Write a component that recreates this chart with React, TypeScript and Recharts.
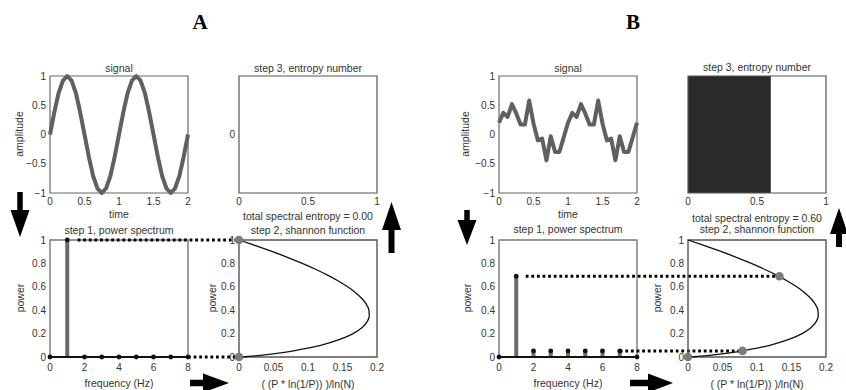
import React from 'react';
import { ComposedChart, Line, Scatter, XAxis, YAxis, ReferenceArea, ReferenceLine } from 'recharts';

// sampled time axis (16 samples per second)
const timeSec = [
  0, 0.0625, 0.125, 0.1875, 0.25, 0.3125, 0.375, 0.4375, 0.5, 0.5625, 0.625, 0.6875, 0.75, 0.8125, 0.875, 0.9375,
  1, 1.0625, 1.125, 1.1875, 1.25, 1.3125, 1.375, 1.4375, 1.5, 1.5625, 1.625, 1.6875, 1.75, 1.8125, 1.875, 1.9375, 2,
];
const signalA = [
  0, 0.38, 0.71, 0.92, 1, 0.92, 0.71, 0.38, 0, -0.38, -0.71, -0.92, -1, -0.92, -0.71, -0.38,
  0, 0.38, 0.71, 0.92, 1, 0.92, 0.71, 0.38, 0, -0.38, -0.71, -0.92, -1, -0.92, -0.71, -0.38, 0,
];
const signalB = [
  0.2, 0.37, 0.3, 0.52, 0.36, 0.17, 0.17, 0.58, 0.19, -0.1, -0.07, -0.44, -0.03, -0.3, -0.3, -0.05,
  0.2, 0.37, 0.3, 0.52, 0.36, 0.17, 0.17, 0.58, 0.19, -0.1, -0.07, -0.44, -0.03, -0.3, -0.3, -0.05, 0.2,
];

const freqHz = [0, 1, 2, 3, 4, 5, 6, 7, 8];
const powerA = [0, 1, 0, 0, 0, 0, 0, 0, 0];
const powerB = [0, 0.69, 0.052, 0.052, 0.052, 0.052, 0.052, 0.052, 0];

// shannon function: power P vs (P*ln(1/P))/ln(N)
const shannonP = [
  0, 0.002, 0.005, 0.01, 0.02, 0.035, 0.05, 0.075, 0.1, 0.15, 0.2, 0.25, 0.3, 0.35, 0.4, 0.45, 0.5, 0.55, 0.6,
  0.65, 0.7, 0.75, 0.8, 0.85, 0.9, 0.95, 1,
];
const shannonE = [
  0, 0.0064, 0.0136, 0.0237, 0.0402, 0.0603, 0.077, 0.0998, 0.1183, 0.1462, 0.1654, 0.1781, 0.1856, 0.1888,
  0.1883, 0.1846, 0.1781, 0.169, 0.1575, 0.1439, 0.1283, 0.1109, 0.0917, 0.071, 0.0487, 0.025, 0,
];

const markerEA = [0, 0];
const markerPA = [1, 0];
const markerEB = [0, 0.079, 0.1325];
const markerPB = [0, 0.052, 0.69];

// dotted links from the spectrum to the shannon curve
const linkPA = [1, 0];
const linkFromA = [1.6, 8];
const linkToA = [0, 0];
const linkPB = [0.69, 0.052];
const linkFromB = [1.55, 7];
const linkToB = [0.1325, 0.079];

const entropyA = 0;
const entropyB = 0.6;

const PW = 138;
const PH = 117;
const YW = 46;
const MT = 10;
const MR = 14;
const XH = 34;
const TOP = 76;
const BOT = 240;
const AX = [50, 239];
const BX = [499, 688];
const FONT = '"Liberation Sans", Arial, Helvetica, sans-serif';
const INK = '#333';

const tickStyle = { fontSize: 10, fill: INK };
const minus = (v: number) => String(v).replace('-', '\u2212');
const size = { width: YW + PW + MR, height: MT + PH + XH, margin: { top: MT, right: MR, bottom: 0, left: 0 } };

function Slot({ x, y, children }: any) {
  return <div style={{ position: 'absolute', left: x - YW, top: y - MT }}>{children}</div>;
}

function yAxis(domain: number[], ticks: number[], show = true, overflow = false) {
  return (
    <YAxis type="number" domain={domain} ticks={ticks} width={YW} axisLine={false} tickLine={false}
      tickSize={2} tickMargin={2} tick={show ? tickStyle : false} tickFormatter={minus} interval={0}
      allowDataOverflow={overflow} />
  );
}

function xAxis(key: string, domain: number[], ticks: number[], margin: number, overflow = false) {
  return (
    <XAxis dataKey={key} type="number" domain={domain} ticks={ticks} height={XH} axisLine={false} tickLine={false}
      tickSize={2} tickMargin={margin} tick={tickStyle} interval={0} allowDataOverflow={overflow} />
  );
}

function SignalChart({ x, values }: { x: number; values: number[] }) {
  const data = timeSec.map((t, i) => ({ t, v: values[i] }));
  return (
    <Slot x={x} y={TOP}>
      <ComposedChart {...size} data={data}>
        {xAxis('t', [0, 2], [0, 0.5, 1, 1.5, 2], 3)}
        {yAxis([-1, 1], [-1, -0.5, 0, 0.5, 1])}
        <ReferenceArea x1={0} x2={2} y1={-1} y2={1} fill="none" stroke="#666" strokeWidth={1.2} />
        <Line dataKey="v" type="linear" stroke="#606060" strokeWidth={4} strokeLinejoin="round" dot={false}
          isAnimationActive={false} />
      </ComposedChart>
    </Slot>
  );
}

function EntropyChart({ x, value, zeroTick }: { x: number; value: number; zeroTick: boolean }) {
  const data = [{ e: 0 }, { e: 1 }];
  return (
    <Slot x={x} y={TOP}>
      <ComposedChart {...size} data={data}>
        {xAxis('e', [0, 1], [0, 0.5, 1], 3, true)}
        {yAxis([-1, 1], [0], zeroTick, true)}
        {value > 0 && <ReferenceArea x1={0} x2={value} y1={-1} y2={1} fill="#2a2a2a" fillOpacity={1} stroke="none" />}
        <ReferenceArea x1={0} x2={1} y1={-1} y2={1} fill="none" stroke="#555" strokeWidth={1.2} />
      </ComposedChart>
    </Slot>
  );
}

function StemChart({ xs, power, linkP, linkFrom, linkTo }: any) {
  const data = freqHz.map((f, i) => ({ f, p: power[i] }));
  // shannon-axis value -> frequency units of this panel, so the dotted line reaches the right panel
  const toFreq = (e: number) => ((xs[1] + (e / 0.2) * PW - xs[0]) / PW) * 8;
  return (
    <Slot x={xs[0]} y={BOT}>
      <ComposedChart {...size} data={data}>
        {xAxis('f', [0, 8], [0, 2, 4, 6, 8], 5)}
        {yAxis([0, 1], [0, 0.2, 0.4, 0.6, 0.8, 1])}
        <ReferenceArea x1={0} x2={8} y1={0} y2={1} fill="none" stroke="#777" strokeWidth={1.4} />
        {data.filter((d) => d.p > 0).map((d) => (
          <ReferenceLine key={d.f} segment={[{ x: d.f, y: 0 }, { x: d.f, y: d.p }]} stroke="#6a6a6a" strokeWidth={4} />
        ))}
        <ReferenceLine y={0} stroke="#111" strokeWidth={2} />
        {linkP.map((p: number, i: number) => (
          <ReferenceLine key={'l' + i} segment={[{ x: linkFrom[i], y: p }, { x: toFreq(linkTo[i]), y: p }]}
            ifOverflow="visible" stroke="#000" strokeWidth={3} strokeDasharray="2.8 2.8" />
        ))}
        <Scatter dataKey="p" isAnimationActive={false}
          shape={(s: any) => <circle cx={s.cx} cy={s.cy} r={2.4} fill="#111" />} />
      </ComposedChart>
    </Slot>
  );
}

function ShannonChart({ x, markerE, markerP }: any) {
  const data = shannonP.map((p, i) => ({ e: shannonE[i], p }));
  const marks = markerE.map((e: number, i: number) => ({ e, p: markerP[i] }));
  return (
    <Slot x={x} y={BOT}>
      <ComposedChart {...size} data={data}>
        {xAxis('e', [0, 0.2], [0, 0.05, 0.1, 0.15, 0.2], 5)}
        {yAxis([0, 1], [0, 0.2, 0.4, 0.6, 0.8, 1])}
        <ReferenceArea x1={0} x2={0.2} y1={0} y2={1} fill="none" stroke="#555" strokeWidth={1.4} />
        <Line dataKey="p" type="monotoneY" stroke="#111" strokeWidth={1.3} dot={false} isAnimationActive={false} />
        <Scatter data={marks} dataKey="p" isAnimationActive={false}
          shape={(s: any) => <circle cx={s.cx} cy={s.cy} r={4.3} fill="#7c7c7c" />} />
      </ComposedChart>
    </Slot>
  );
}

function Txt({ x, y, text, rot = false, fs = 10.5 }: any) {
  return (
    <div style={{ position: 'absolute', left: x, top: y, transform: `translate(-50%, -50%)${rot ? ' rotate(-90deg)' : ''}`,
      whiteSpace: 'nowrap', fontSize: fs, lineHeight: 1, color: INK }}>
      {text}
    </div>
  );
}

function arrow(tx: number, ty: number, dx: number, dy: number, hl: number, hw: number, sl: number, sw: number) {
  const px = -dy;
  const py = dx;
  const pts = [
    [0, 0], [-hl, hw / 2], [-hl, sw / 2], [-hl - sl, sw / 2], [-hl - sl, -sw / 2], [-hl, -sw / 2], [-hl, -hw / 2],
  ];
  return pts.map(([u, v]) => `${tx + u * dx + v * px},${ty + u * dy + v * py}`).join(' ');
}

export default function App() {
  const cA = AX.map((v) => v + PW / 2);
  const cB = BX.map((v) => v + PW / 2);
  return (
    <div style={{ position: 'absolute', left: 0, top: 0, width: 846, height: 390, background: '#fff', fontFamily: FONT, overflow: 'hidden' }}>
      <style>{'.recharts-surface{overflow:visible}'}</style>
      <div style={{ position: 'absolute', left: 200, top: 22, transform: 'translate(-50%,-50%)', fontFamily: '"Liberation Serif", serif', fontWeight: 'bold', fontSize: 21 }}>A</div>
      <div style={{ position: 'absolute', left: 633, top: 22, transform: 'translate(-50%,-50%)', fontFamily: '"Liberation Serif", serif', fontWeight: 'bold', fontSize: 21 }}>B</div>

      <SignalChart x={AX[0]} values={signalA} />
      <EntropyChart x={AX[1]} value={entropyA} zeroTick />
      <StemChart xs={AX} power={powerA} linkP={linkPA} linkFrom={linkFromA} linkTo={linkToA} />
      <ShannonChart x={AX[1]} markerE={markerEA} markerP={markerPA} />

      <SignalChart x={BX[0]} values={signalB} />
      <EntropyChart x={BX[1]} value={entropyB} zeroTick={false} />
      <StemChart xs={BX} power={powerB} linkP={linkPB} linkFrom={linkFromB} linkTo={linkToB} />
      <ShannonChart x={BX[1]} markerE={markerEB} markerP={markerPB} />

      <Txt x={cA[0]} y={68} text="signal" />
      <Txt x={cA[0]} y={214} text="time" />
      <Txt x={19} y={134} text="amplitude" rot />
      <Txt x={cA[1]} y={67.5} text="step 3, entropy number" />
      <Txt x={cA[1]} y={216} text={`total spectral entropy = ${entropyA.toFixed(2)}`} />
      <Txt x={cA[0]} y={229.5} text="step 1, power spectrum" />
      <Txt x={cA[0]} y={383} text="frequency (Hz)" />
      <Txt x={20} y={298} text="power" rot />
      <Txt x={cA[1]} y={229.5} text="step 2, shannon function" />
      <Txt x={cA[1]} y={383.5} text="( (P * ln(1/P)) )/ln(N)" />
      <Txt x={212} y={298} text="power" rot />

      <Txt x={cB[0]} y={68} text="signal" />
      <Txt x={cB[0]} y={214} text="time" />
      <Txt x={465} y={134} text="amplitude" rot />
      <Txt x={cB[1]} y={67} text="step 3, entropy number" />
      <Txt x={cB[1]} y={218} text={`total spectral entropy = ${entropyB.toFixed(2)}`} />
      <Txt x={cB[0]} y={229} text="step 1, power spectrum" />
      <Txt x={cB[0]} y={383} text="frequency (Hz)" />
      <Txt x={467} y={298} text="power" rot />
      <Txt x={cB[1]} y={228.5} text="step 2, shannon function" />
      <Txt x={cB[1]} y={384} text="( (P * ln(1/P)) )/ln(N)" />
      <Txt x={657} y={298} text="power" rot />

      <svg width={846} height={390} style={{ position: 'absolute', left: 0, top: 0, pointerEvents: 'none' }}>
        <polygon points={arrow(20, 237, 0, 1, 27, 19, 18, 5.5)} fill="#000" />
        <polygon points={arrow(391.5, 202, 0, -1, 28, 19, 23, 6)} fill="#000" />
        <polygon points={arrow(229, 383, 1, 0, 26, 19, 13, 6.5)} fill="#000" />
        <polygon points={arrow(467, 245, 0, 1, 25, 19, 10, 5.5)} fill="#000" />
        <polygon points={arrow(839, 208, 0, -1, 26, 18, 13, 6)} fill="#000" />
        <polygon points={arrow(673, 383, 1, 0, 25, 19, 18, 6.5)} fill="#000" />
      </svg>
    </div>
  );
}
